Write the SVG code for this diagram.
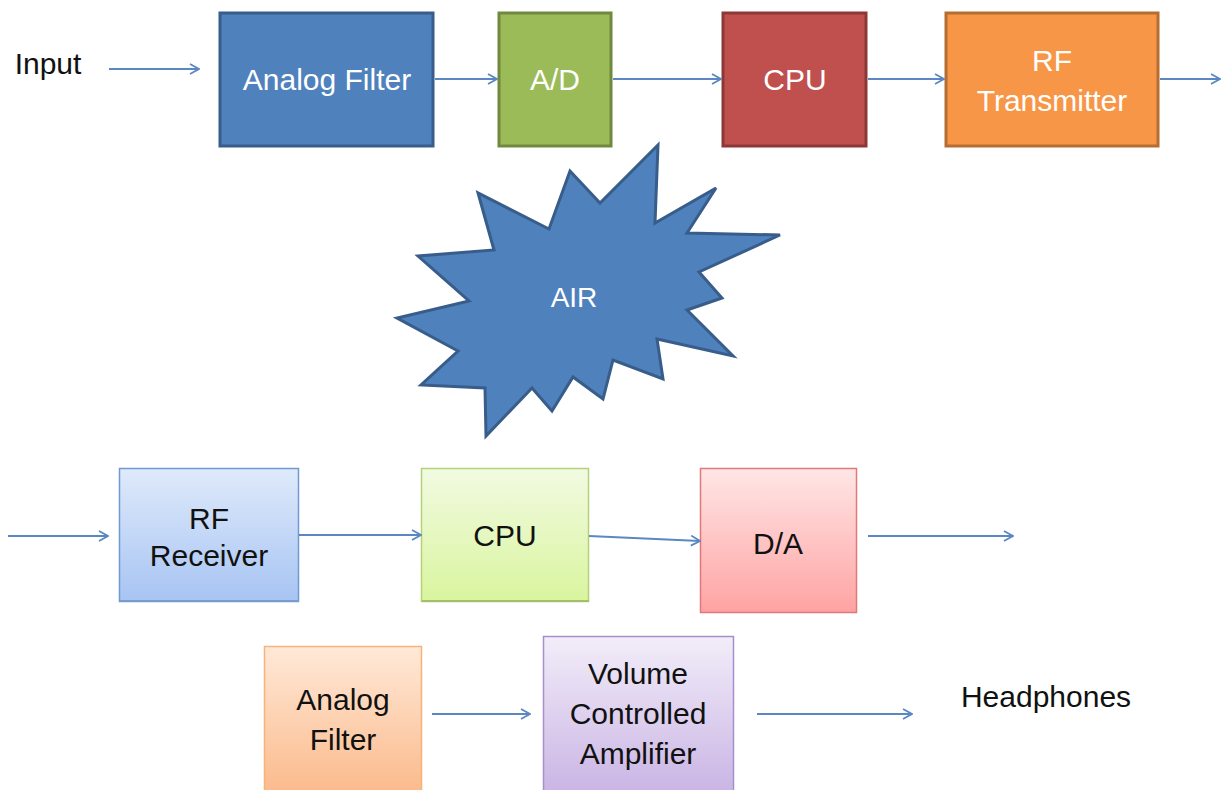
<svg xmlns="http://www.w3.org/2000/svg" width="1221" height="790" viewBox="0 0 1221 790">
  <style>
    .lbl { font-family: "Liberation Sans", Arial, sans-serif; font-size: 30px; text-anchor: middle; }
    .w { fill: #ffffff; }
    .k { fill: #111111; }
    .edge { stroke: #5b87c2; stroke-width: 2; fill: none; marker-end: url(#open); }
  </style>
  <defs>
    <marker id="open" viewBox="0 0 12 12" refX="11" refY="6" markerWidth="12" markerHeight="12" markerUnits="userSpaceOnUse" orient="auto">
      <path d="M2,1 L11,6 L2,11" fill="none" stroke="#5b87c2" stroke-width="1.8"/>
    </marker>
    <linearGradient id="gBlue" x1="0" y1="0" x2="0" y2="1">
      <stop offset="0" stop-color="#dfeafb"/>
      <stop offset="1" stop-color="#a7c4f3"/>
    </linearGradient>
    <linearGradient id="gGreen" x1="0" y1="0" x2="0" y2="1">
      <stop offset="0" stop-color="#f2fae2"/>
      <stop offset="1" stop-color="#d9f59e"/>
    </linearGradient>
    <linearGradient id="gRed" x1="0" y1="0" x2="0" y2="1">
      <stop offset="0" stop-color="#ffe6e6"/>
      <stop offset="1" stop-color="#ffa3a3"/>
    </linearGradient>
    <linearGradient id="gOrange" x1="0" y1="0" x2="0" y2="1">
      <stop offset="0" stop-color="#ffe9d8"/>
      <stop offset="1" stop-color="#fbb98a"/>
    </linearGradient>
    <linearGradient id="gPurple" x1="0" y1="0" x2="0" y2="1">
      <stop offset="0" stop-color="#f2edf9"/>
      <stop offset="1" stop-color="#c9b3e4"/>
    </linearGradient>
  </defs>

  <rect width="1221" height="790" fill="#ffffff"/>

  <!-- transmit chain -->
  <text id="input" class="lbl k" x="48" y="74">Input</text>

  <g id="tx-filter">
    <rect x="220" y="13" width="213" height="133" fill="#4f81bd" stroke="#385d8a" stroke-width="3"/>
    <text class="lbl w" x="327" y="90">Analog Filter</text>
  </g>
  <g id="tx-adc">
    <rect x="499" y="13" width="112" height="133" fill="#9bbb59" stroke="#71893f" stroke-width="3"/>
    <text class="lbl w" x="555" y="90">A/D</text>
  </g>
  <g id="tx-cpu">
    <rect x="723" y="13" width="143" height="133" fill="#c0504d" stroke="#8c3836" stroke-width="3"/>
    <text class="lbl w" x="795" y="90">CPU</text>
  </g>
  <g id="tx-rf">
    <rect x="946" y="13" width="212" height="133" fill="#f79646" stroke="#b66d31" stroke-width="3"/>
    <text class="lbl w" x="1052" y="71">RF</text>
    <text class="lbl w" x="1052" y="111">Transmitter</text>
  </g>

  <!-- channel -->
  <g id="air">
    <path d="M658,145 L655,223 L716,188 L687,233 L780,235 L699,272 L722,298 L687,310 L733,356 L657,339 L663,379 L613,360 L603,399 L573,377 L552,411 L532,388 L486,436 L485,388 L421,385 L458,351 L397,318 L469,301 L418,256 L494,250 L478,193 L549,229 L570,171 L600,203 Z" fill="#4f81bd" stroke="#385d8a" stroke-width="3" stroke-linejoin="miter"/>
    <text class="lbl w" x="574" y="307" style="font-size:28px">AIR</text>
  </g>

  <!-- receive chain -->
  <g id="rx-rf">
    <rect x="119.5" y="468.5" width="179" height="133" fill="url(#gBlue)" stroke="#6f9ad4" stroke-width="1.5"/>
    <line x1="120" y1="601" x2="299" y2="601" stroke="#7a9ccc" stroke-width="2"/>
    <text class="lbl k" x="209" y="529">RF</text>
    <text class="lbl k" x="209" y="566">Receiver</text>
  </g>
  <g id="rx-cpu">
    <rect x="421.5" y="468.5" width="167" height="133" fill="url(#gGreen)" stroke="#b5d27a" stroke-width="1.5"/>
    <line x1="422" y1="601" x2="589" y2="601" stroke="#a4bf6a" stroke-width="2"/>
    <text class="lbl k" x="505" y="546">CPU</text>
  </g>
  <g id="rx-dac">
    <rect x="700.5" y="468.5" width="156" height="144" fill="url(#gRed)" stroke="#e07a7a" stroke-width="1.5"/>
    <text class="lbl k" x="778" y="554">D/A</text>
  </g>
  <g id="rx-filter">
    <rect x="264.5" y="646.5" width="157" height="150" fill="url(#gOrange)" stroke="#f8b27a" stroke-width="1.5"/>
    <text class="lbl k" x="343" y="710">Analog</text>
    <text class="lbl k" x="343" y="750">Filter</text>
  </g>
  <g id="rx-amp">
    <rect x="543.5" y="636.5" width="190" height="160" fill="url(#gPurple)" stroke="#a68fcc" stroke-width="1.5"/>
    <text class="lbl k" x="638" y="684">Volume</text>
    <text class="lbl k" x="638" y="724">Controlled</text>
    <text class="lbl k" x="638" y="764">Amplifier</text>
  </g>
  <text id="headphones" class="lbl k" x="1046" y="707">Headphones</text>

  <!-- connectors -->
  <g id="connectors">
    <line class="edge" x1="109" y1="69" x2="199" y2="69"/>
    <line class="edge" x1="435" y1="79" x2="497" y2="79"/>
    <line class="edge" x1="613" y1="79" x2="721" y2="79"/>
    <line class="edge" x1="868" y1="79" x2="944" y2="79"/>
    <line class="edge" x1="1160" y1="79" x2="1220" y2="79"/>
    <line class="edge" x1="8" y1="536" x2="108" y2="536"/>
    <line class="edge" x1="299" y1="535" x2="421" y2="535"/>
    <line class="edge" x1="589" y1="536" x2="700" y2="541"/>
    <line class="edge" x1="868" y1="536" x2="1013" y2="536"/>
    <line class="edge" x1="432" y1="714" x2="530" y2="714"/>
    <line class="edge" x1="757" y1="714" x2="912" y2="714"/>
  </g>
</svg>
